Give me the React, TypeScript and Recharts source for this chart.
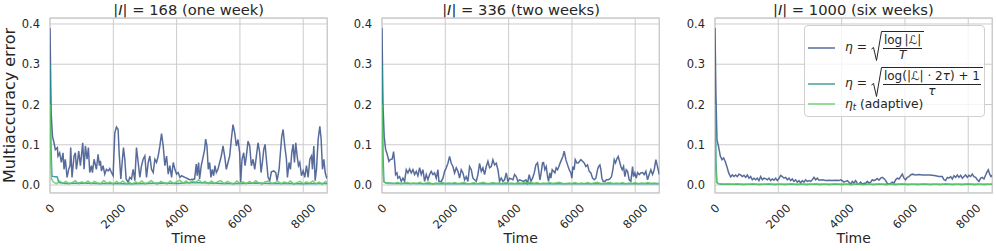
import React from 'react'
import { LineChart, Line, XAxis, YAxis, CartesianGrid, ReferenceArea, Legend } from 'recharts'

const FONT = '"DejaVu Sans", sans-serif'
const INK = '#262626'
const GRID = '#cccccc'

const TIME_TICKS = [0, 2000, 4000, 6000, 8000]
const ERROR_TICKS = [0, 0.1, 0.2, 0.3, 0.4]
const HORIZON_SIZES = [168, 336, 1000]
const HORIZON_NAMES = ['one week', 'two weeks', 'six weeks']
const SERIES_COLORS = ['#3b528b', '#21918c', '#5ec962']
const SERIES_NAMES = ['fixed log|L|/T', 'fixed log(|L|2tau)+1/tau', 'adaptive']

// [time, error], one list per panel
const P1_FIXED: [number, number][] = [
  [0, 0.39], [35, 0.18], [80, 0.12], [127, 0.105], [169, 0.088], [232, 0.093], [253, 0.072], [306, 0.08],
  [359, 0.056], [411, 0.08], [443, 0.039], [485, 0.064], [538, 0.019], [591, 0.039], [633, 0.048], [654, 0.093],
  [696, 0.019], [760, 0.072], [802, 0.08], [833, 0.039], [865, 0.056], [907, 0.084], [960, 0.048], [992, 0.072],
  [1034, 0.105], [1076, 0.039], [1118, 0.097], [1171, 0.064], [1213, 0.093], [1255, 0.031], [1308, 0.048],
  [1340, 0.031], [1393, 0.064], [1466, 0.039], [1519, 0.076], [1561, 0.048], [1593, 0.06], [1625, 0.035],
  [1677, 0.048], [1730, 0.027], [1783, 0.039], [1836, 0.035], [1888, 0.041], [1941, 0.031], [1994, 0.023],
  [2047, 0.129], [2099, 0.144], [2152, 0.138], [2184, 0.08], [2237, 0.015], [2279, 0.056], [2321, 0.093],
  [2363, 0.064], [2405, 0.015], [2469, 0.007], [2521, 0.019], [2574, 0.015], [2627, 0.039], [2680, 0.011],
  [2732, 0.093], [2785, 0.056], [2838, 0.019], [2891, 0.048], [2943, 0.064], [2996, 0.072], [3049, 0.019],
  [3102, 0.056], [3154, 0.072], [3207, 0.039], [3260, 0.031], [3313, 0.064], [3365, 0.056], [3418, 0.072],
  [3471, 0.097], [3524, 0.128], [3576, 0.097], [3629, 0.048], [3682, 0.072], [3735, 0.027], [3787, 0.048],
  [3840, 0.019], [3893, 0.056], [3946, 0.039], [3998, 0.027], [4051, 0.031], [4104, 0.019], [4157, 0.023],
  [4262, 0.019], [4368, 0.015], [4410, 0.013], [4568, 0.015], [4621, 0.052], [4652, 0.023], [4694, 0.056],
  [4726, 0.015], [4779, 0.048], [4832, 0.068], [4884, 0.088], [4916, 0.114], [4958, 0.097], [5000, 0.039],
  [5043, 0.056], [5085, 0.019], [5127, 0.039], [5169, 0.023], [5211, 0.048], [5254, 0.031], [5306, 0.039],
  [5359, 0.056], [5412, 0.072], [5465, 0.097], [5517, 0.072], [5570, 0.039], [5623, 0.056], [5676, 0.072],
  [5728, 0.113], [5781, 0.15], [5834, 0.13], [5887, 0.097], [5939, 0.113], [5992, 0.08], [6024, 0.007],
  [6066, 0.064], [6119, 0.08], [6161, 0.048], [6203, 0.072], [6256, 0.109], [6309, 0.097], [6361, 0.048],
  [6414, 0.064], [6467, 0.039], [6520, 0.072], [6572, 0.105], [6625, 0.08], [6667, 0.031], [6709, 0.056],
  [6752, 0.088], [6794, 0.101], [6836, 0.064], [6889, 0.019], [6942, 0.011], [6994, 0.033], [7068, 0.035],
  [7131, 0.031], [7174, 0.011], [7237, 0.039], [7279, 0.08], [7321, 0.121], [7364, 0.138], [7416, 0.097],
  [7469, 0.064], [7501, 0.019], [7553, 0.056], [7596, 0.039], [7638, 0.08], [7680, 0.101], [7722, 0.056],
  [7764, 0.105], [7807, 0.072], [7849, 0.048], [7891, 0.056], [7944, 0.023], [7997, 0.035], [8049, 0.019],
  [8102, 0.048], [8155, 0.019], [8208, 0.064], [8261, 0.072], [8292, 0.039], [8334, 0.097], [8376, 0.011],
  [8419, 0.039], [8471, 0.113], [8524, 0.146], [8566, 0.113], [8608, 0.039], [8651, 0.064], [8693, 0.031],
  [8735, 0.019], [8760, 0.022],
]

const P2_FIXED: [number, number][] = [
  [0, 0.39], [30, 0.2], [70, 0.12], [114, 0.088], [156, 0.079], [219, 0.059], [261, 0.063], [324, 0.065],
  [366, 0.083], [398, 0.059], [429, 0.026], [472, 0.03], [503, 0.017], [556, 0.021], [608, 0.009], [661, 0.017],
  [714, 0.009], [766, 0.038], [819, 0.03], [872, 0.04], [924, 0.03], [977, 0.038], [1030, 0.026], [1082, 0.034],
  [1135, 0.023], [1188, 0.043], [1240, 0.026], [1293, 0.038], [1346, 0.009], [1398, 0.026], [1451, 0.013],
  [1504, 0.026], [1556, 0.034], [1609, 0.026], [1661, 0.03], [1714, 0.017], [1767, 0.038], [1798, 0.009],
  [1872, 0.009], [1925, 0.017], [1977, 0.034], [2030, 0.043], [2083, 0.054], [2135, 0.071], [2188, 0.054],
  [2241, 0.046], [2293, 0.03], [2346, 0.043], [2399, 0.034], [2451, 0.017], [2504, 0.038], [2557, 0.03],
  [2609, 0.013], [2662, 0.021], [2714, 0.009], [2767, 0.046], [2820, 0.038], [2872, 0.017], [2925, 0.013],
  [2978, 0.009], [3030, 0.026], [3083, 0.054], [3136, 0.034], [3188, 0.043], [3241, 0.026], [3294, 0.046],
  [3346, 0.059], [3399, 0.043], [3452, 0.046], [3504, 0.063], [3557, 0.05], [3610, 0.054], [3662, 0.038],
  [3715, 0.009], [3767, 0.017], [3820, 0.009], [3873, 0.013], [3925, 0.03], [3978, 0.009], [4031, 0.017],
  [4136, 0.013], [4188, 0.026], [4241, 0.021], [4294, 0.009], [4347, 0.013], [4472, 0.009], [4545, 0.013],
  [4598, 0.005], [4651, 0.026], [4703, 0.009], [4756, 0.017], [4809, 0.03], [4861, 0.05], [4914, 0.055],
  [4945, 0.038], [4988, 0.013], [5019, 0.026], [5072, 0.055], [5103, 0.056], [5145, 0.038], [5188, 0.046],
  [5230, 0.021], [5261, 0.009], [5303, 0.03], [5335, 0.017], [5377, 0.038], [5419, 0.034], [5461, 0.03],
  [5503, 0.043], [5546, 0.038], [5588, 0.046], [5630, 0.055], [5672, 0.063], [5714, 0.071], [5756, 0.084],
  [5809, 0.063], [5862, 0.05], [5914, 0.038], [5967, 0.03], [5998, 0.017], [6030, 0.046], [6072, 0.038],
  [6104, 0.063], [6156, 0.055], [6198, 0.055], [6241, 0.059], [6283, 0.063], [6335, 0.059], [6388, 0.055],
  [6441, 0.046], [6493, 0.05], [6546, 0.034], [6599, 0.03], [6651, 0.017], [6704, 0.013], [6757, 0.017],
  [6809, 0.038], [6841, 0.046], [6883, 0.05], [6915, 0.038], [6946, 0.017], [6988, 0.009], [7041, 0.009],
  [7094, 0.013], [7146, 0.013], [7199, 0.015], [7251, 0.021], [7294, 0.038], [7336, 0.063], [7378, 0.055],
  [7420, 0.065], [7462, 0.071], [7504, 0.059], [7546, 0.046], [7589, 0.038], [7631, 0.046], [7673, 0.021],
  [7715, 0.038], [7757, 0.034], [7810, 0.013], [7862, 0.009], [7915, 0.046], [7946, 0.021], [7988, 0.03],
  [8031, 0.017], [8073, 0.031], [8125, 0.026], [8178, 0.03], [8231, 0.031], [8283, 0.026], [8336, 0.034],
  [8389, 0.013], [8441, 0.026], [8494, 0.038], [8547, 0.026], [8599, 0.038], [8652, 0.063], [8705, 0.045],
  [8760, 0.026],
]

const P3_FIXED: [number, number][] = [
  [0, 0.39], [30, 0.22], [63, 0.112], [116, 0.094], [168, 0.072], [221, 0.063], [274, 0.067], [326, 0.058],
  [379, 0.045], [432, 0.03], [494, 0.02], [547, 0.025], [600, 0.021], [652, 0.025], [705, 0.021], [757, 0.027],
  [810, 0.025], [863, 0.021], [915, 0.024], [968, 0.019], [1021, 0.025], [1073, 0.017], [1126, 0.021],
  [1179, 0.013], [1231, 0.017], [1284, 0.013], [1337, 0.017], [1389, 0.011], [1442, 0.021], [1495, 0.013],
  [1547, 0.017], [1600, 0.016], [1652, 0.013], [1705, 0.017], [1758, 0.011], [1810, 0.015], [1863, 0.012],
  [1916, 0.017], [1968, 0.011], [2021, 0.016], [2074, 0.024], [2126, 0.021], [2179, 0.017], [2232, 0.019],
  [2284, 0.013], [2337, 0.017], [2390, 0.011], [2442, 0.015], [2495, 0.009], [2547, 0.013], [2600, 0.007],
  [2653, 0.011], [2705, 0.005], [2758, 0.011], [2811, 0.007], [2863, 0.013], [2916, 0.009], [2969, 0.011],
  [3021, 0.009], [3074, 0.013], [3127, 0.019], [3179, 0.013], [3232, 0.017], [3285, 0.012], [3390, 0.013],
  [3495, 0.011], [3601, 0.012], [3706, 0.011], [3811, 0.012], [3916, 0.011], [3969, 0.013], [4022, 0.011],
  [4074, 0.007], [4127, 0.009], [4180, 0.011], [4232, 0.007], [4285, 0.002], [4338, 0.009], [4390, 0.005],
  [4443, 0.011], [4496, 0.004], [4548, 0.003], [4601, 0.007], [4654, 0.002], [4706, 0.004], [4759, 0.005],
  [4812, 0.009], [4864, 0.005], [4917, 0.007], [4969, 0.013], [5022, 0.011], [5075, 0.013], [5127, 0.016],
  [5180, 0.012], [5233, 0.017], [5285, 0.019], [5338, 0.016], [5391, 0.011], [5443, 0.004], [5496, 0.002],
  [5549, 0.004], [5601, 0.007], [5654, 0.005], [5707, 0.013], [5759, 0.017], [5812, 0.015], [5864, 0.021],
  [5917, 0.027], [5970, 0.017], [6022, 0.013], [6075, 0.019], [6128, 0.021], [6180, 0.025], [6233, 0.027],
  [6338, 0.025], [6444, 0.026], [6549, 0.025], [6654, 0.025], [6760, 0.025], [6865, 0.024], [6970, 0.023],
  [7075, 0.021], [7181, 0.021], [7233, 0.013], [7286, 0.011], [7339, 0.019], [7391, 0.017], [7444, 0.021],
  [7497, 0.015], [7549, 0.023], [7602, 0.019], [7655, 0.025], [7707, 0.019], [7760, 0.024], [7813, 0.017],
  [7865, 0.021], [7918, 0.025], [7971, 0.019], [8023, 0.024], [8076, 0.021], [8129, 0.027], [8181, 0.021],
  [8234, 0.019], [8286, 0.013], [8339, 0.009], [8392, 0.017], [8444, 0.019], [8497, 0.015], [8550, 0.025],
  [8602, 0.034], [8634, 0.038], [8676, 0.027], [8718, 0.021], [8760, 0.024],
]

// times shared by the teal (tau) curves
const TAU_T = [0, 30, 60, 120, 230, 280, 500, 1000, 1500, 2000, 2500, 3000, 3500, 4000, 4500, 5000, 5500, 6000, 6500, 7000, 7500, 8000, 8500, 8760]
const P1_TAU = [0.3, 0.1, 0.022, 0.021, 0.02, 0.006, 0.004, 0.005, 0.004, 0.004, 0.003, 0.004, 0.005, 0.004, 0.006, 0.005, 0.004, 0.004, 0.005, 0.004, 0.004, 0.003, 0.004, 0.004]
const P2_TAU = [0.3, 0.08, 0.008, 0.005, 0.005, 0.004, 0.004, 0.004, 0.003, 0.004, 0.003, 0.003, 0.004, 0.003, 0.004, 0.003, 0.004, 0.003, 0.003, 0.004, 0.003, 0.003, 0.004, 0.003]
const P3_TAU = [0.3, 0.06, 0.006, 0.003, 0.002, 0.002, 0.002, 0.002, 0.002, 0.002, 0.002, 0.002, 0.002, 0.002, 0.002, 0.002, 0.002, 0.002, 0.002, 0.002, 0.002, 0.002, 0.002, 0.002]

// times shared by the green (adaptive) curves
const NOISE_T = [
  0, 20, 50, 100, 200, 300, 400, 500, 600, 700, 800, 900, 1000, 1100, 1200, 1300, 1400, 1500, 1600, 1700, 1800,
  1900, 2000, 2100, 2200, 2300, 2400, 2500, 2600, 2700, 2800, 2900, 3000, 3100, 3200, 3300, 3400, 3500, 3600,
  3700, 3800, 3900, 4000, 4100, 4200, 4300, 4400, 4500, 4600, 4700, 4800, 4900, 5000, 5100, 5200, 5300, 5400,
  5500, 5600, 5700, 5800, 5900, 6000, 6100, 6200, 6300, 6400, 6500, 6600, 6700, 6800, 6900, 7000, 7100, 7200,
  7300, 7400, 7500, 7600, 7700, 7800, 7900, 8000, 8100, 8200, 8300, 8400, 8500, 8600, 8700, 8760,
]
const P1_ADAPTIVE = [
  0.2, 0.07, 0.015,
  0.008, 0.003, 0.01, 0.004, 0.009, 0.003, 0.006, 0.011, 0.003, 0.008,
  0.004, 0.01, 0.003, 0.009, 0.005, 0.003, 0.011, 0.004, 0.008, 0.002,
  0.009, 0.004, 0.01, 0.003, 0.007, 0.002, 0.008, 0.004, 0.01, 0.003,
  0.006, 0.011, 0.004, 0.002, 0.009, 0.005, 0.003, 0.01, 0.004, 0.008,
  0.012, 0.005, 0.01, 0.004, 0.011, 0.006, 0.013, 0.005, 0.009, 0.003,
  0.01, 0.004, 0.008, 0.011, 0.003, 0.009, 0.005, 0.002, 0.01, 0.004,
  0.008, 0.003, 0.009, 0.004, 0.011, 0.005, 0.002, 0.008, 0.01, 0.004,
  0.006, 0.009, 0.003, 0.008, 0.004, 0.01, 0.002, 0.006, 0.009, 0.003,
  0.008, 0.004, 0.01, 0.003, 0.007, 0.002, 0.009,
  0.005,
]
const P2_ADAPTIVE = [
  0.2, 0.05, 0.01,
  0.006, 0.003, 0.005, 0.004, 0.007, 0.003, 0.005, 0.006, 0.003, 0.005,
  0.004, 0.007, 0.003, 0.005, 0.006, 0.002, 0.005, 0.004, 0.007, 0.003,
  0.005, 0.004, 0.006, 0.003, 0.005, 0.007, 0.003, 0.004, 0.006, 0.003,
  0.005, 0.007, 0.004, 0.003, 0.006, 0.004, 0.005, 0.003, 0.006, 0.004,
  0.005, 0.003, 0.006, 0.004, 0.007, 0.005, 0.008, 0.004, 0.006, 0.003,
  0.005, 0.004, 0.006, 0.003, 0.005, 0.007, 0.004, 0.003, 0.005, 0.004,
  0.006, 0.003, 0.005, 0.004, 0.006, 0.003, 0.005, 0.007, 0.004, 0.003,
  0.005, 0.006, 0.003, 0.005, 0.004, 0.006, 0.003, 0.005, 0.004, 0.006,
  0.003, 0.005, 0.004, 0.006, 0.003, 0.005, 0.004,
  0.004,
]
const P3_ADAPTIVE = [
  0.2, 0.05, 0.008,
  0.004, 0.003, 0.002, 0.003, 0.002, 0.002, 0.003, 0.002, 0.001, 0.002,
  0.002, 0.003, 0.002, 0.001, 0.002, 0.002, 0.003, 0.002, 0.001, 0.002,
  0.002, 0.001, 0.002, 0.003, 0.002, 0.001, 0.002, 0.002, 0.001, 0.002,
  0.002, 0.003, 0.001, 0.002, 0.002, 0.001, 0.002, 0.003, 0.002, 0.001,
  0.002, 0.002, 0.001, 0.002, 0.003, 0.002, 0.001, 0.002, 0.002, 0.001,
  0.002, 0.003, 0.002, 0.001, 0.002, 0.002, 0.001, 0.002, 0.003, 0.002,
  0.001, 0.002, 0.002, 0.001, 0.002, 0.003, 0.002, 0.001, 0.002, 0.002,
  0.001, 0.002, 0.003, 0.002, 0.001, 0.002, 0.002, 0.001, 0.002, 0.003,
  0.002, 0.001, 0.002, 0.002, 0.001, 0.002, 0.002,
  0.002,
]

const X_DOMAIN: [number, number] = [0, 8760]
const Y_DOMAIN: [number, number] = [-0.0198, 0.4148]

// layout: left edge of each plot area, in page pixels
const PLOT_LEFT = [50, 382.4, 714.7]
const PLOT_WIDTH = 277.3
const Y_AXIS_W = 50
const RIGHT_PAD = 4
const CHART_W = Y_AXIS_W + PLOT_WIDTH + RIGHT_PAD
const CHART_H = 251

const fromPairs = (pairs: [number, number][]) => pairs.map(([t, v]) => ({ t, v }))
const zip = (ts: number[], vs: number[]) => ts.map((t, i) => ({ t, v: vs[i] }))

const PANELS = [
  { fixed: fromPairs(P1_FIXED), tau: zip(TAU_T, P1_TAU), adaptive: zip(NOISE_T, P1_ADAPTIVE) },
  { fixed: fromPairs(P2_FIXED), tau: zip(TAU_T, P2_TAU), adaptive: zip(NOISE_T, P2_ADAPTIVE) },
  { fixed: fromPairs(P3_FIXED), tau: zip(TAU_T, P3_TAU), adaptive: zip(NOISE_T, P3_ADAPTIVE) },
]

function TimeTick(props: any) {
  const { x, y, payload } = props
  const label = String(payload.value)
  const w = label.length * 7.3
  const cy = y + 10 + ((w + 8.5) * 0.7071) / 2
  return (
    <text
      x={x}
      y={cy}
      transform={`rotate(-45, ${x}, ${cy})`}
      textAnchor="middle"
      dominantBaseline="central"
      fontSize={11.5}
      fill={INK}
    >
      {label}
    </text>
  )
}

function Radical({ height, children }: { height: number; children: React.ReactNode }) {
  return (
    <span style={{ display: 'inline-flex', alignItems: 'stretch' }}>
      <svg width={11} height={height} viewBox={`0 0 11 ${height}`} style={{ display: 'block', overflow: 'visible' }}>
        <path
          d={`M0.5,${height * 0.6} L2.5,${height * 0.55} L5.5,${height - 0.5} L10.5,0.5 L11,0.5`}
          fill="none"
          stroke={INK}
          strokeWidth={1}
        />
      </svg>
      <span style={{ borderTop: `1px solid ${INK}`, padding: '2px 2px 0 1px', display: 'inline-flex' }}>{children}</span>
    </span>
  )
}

function Frac({ num, den }: { num: React.ReactNode; den: React.ReactNode }) {
  return (
    <span style={{ display: 'inline-flex', flexDirection: 'column', alignItems: 'center', lineHeight: '13.5px', fontSize: 12 }}>
      <span style={{ borderBottom: `1px solid ${INK}`, padding: '0 1px', whiteSpace: 'nowrap' }}>{num}</span>
      <span>{den}</span>
    </span>
  )
}

const LEGEND_HANDLE_Y = [22, 58, 78]

function SeriesLegend() {
  const eta = <i>η</i>
  const labels = [
    <span style={{ display: 'inline-flex', alignItems: 'center' }}>
      {eta}&nbsp;=&nbsp;
      <Radical height={30}>
        <Frac num={<>log&thinsp;|ℒ|</>} den={<i>T</i>} />
      </Radical>
    </span>,
    <span style={{ display: 'inline-flex', alignItems: 'center' }}>
      {eta}&nbsp;=&nbsp;
      <Radical height={30}>
        <Frac num={<>log(|ℒ| · 2<i>τ</i>) + 1</>} den={<i>τ</i>} />
      </Radical>
    </span>,
    <span>
      {eta}
      <sub style={{ fontSize: 8.5, verticalAlign: '-2px' }}><i>t</i></sub> (adaptive)
    </span>,
  ]
  const labelTop = [5, 41, 71]
  return (
    <div
      style={{
        position: 'relative',
        width: 181,
        height: 92,
        boxSizing: 'border-box',
        background: 'rgba(255,255,255,0.8)',
        border: '1px solid #d0d0d0',
        borderRadius: 4,
        fontFamily: FONT,
        fontSize: 12.3,
        color: INK,
      }}
    >
      {SERIES_COLORS.map((c, i) => (
        <svg key={SERIES_NAMES[i]} width={27} height={4} style={{ position: 'absolute', left: 3, top: LEGEND_HANDLE_Y[i] - 2 }}>
          <line x1={0} y1={2} x2={27} y2={2} stroke={c} strokeOpacity={0.85} strokeWidth={1.5} />
        </svg>
      ))}
      {labels.map((l, i) => (
        <div key={i} style={{ position: 'absolute', left: 40, top: labelTop[i], lineHeight: '14px', whiteSpace: 'nowrap' }}>
          {l}
        </div>
      ))}
    </div>
  )
}

function Panel({ index }: { index: number }) {
  const panel = PANELS[index]
  const series = [panel.fixed, panel.tau, panel.adaptive]
  return (
    <div style={{ position: 'absolute', left: PLOT_LEFT[index] - Y_AXIS_W, top: 0, width: CHART_W, height: CHART_H }}>
      <div
        style={{
          position: 'absolute',
          left: Y_AXIS_W,
          top: 2,
          width: PLOT_WIDTH,
          textAlign: 'center',
          fontSize: 14.7,
          lineHeight: '16px',
          color: INK,
          whiteSpace: 'nowrap',
        }}
      >
        |<i>I</i>| = {HORIZON_SIZES[index]} ({HORIZON_NAMES[index]})
      </div>
      <LineChart width={CHART_W} height={CHART_H} margin={{ top: 18, right: RIGHT_PAD, bottom: 0, left: 0 }}>
        <CartesianGrid stroke={GRID} strokeWidth={1} />
        <XAxis
          type="number"
          dataKey="t"
          domain={X_DOMAIN}
          ticks={TIME_TICKS}
          interval={0}
          allowDataOverflow
          axisLine={false}
          tickLine={false}
          tickSize={0}
          tickMargin={0}
          height={58}
          tick={<TimeTick />}
          label={{ value: 'Time', position: 'insideBottom', offset: 8, fontSize: 14, fill: INK }}
        />
        <YAxis
          type="number"
          dataKey="v"
          domain={Y_DOMAIN}
          ticks={ERROR_TICKS}
          interval={0}
          allowDataOverflow
          axisLine={false}
          tickLine={false}
          tickSize={0}
          tickMargin={10}
          width={Y_AXIS_W}
          tick={{ fontSize: 11.5, fill: INK }}
          tickFormatter={(v: number) => v.toFixed(1)}
          label={
            index === 0
              ? {
                  content: (p: any) => {
                    const vb = p.viewBox
                    const bx = vb.x + 15
                    const cy = vb.y + vb.height / 2
                    return (
                      <text x={bx} y={cy} transform={`rotate(-90, ${bx}, ${cy})`} textAnchor="middle" fontSize={16} fill={INK}>
                        Multiaccuracy error
                      </text>
                    )
                  },
                }
              : undefined
          }
        />
        <ReferenceArea
          x1={X_DOMAIN[0]}
          x2={X_DOMAIN[1]}
          y1={Y_DOMAIN[0]}
          y2={Y_DOMAIN[1]}
          fill="none"
          stroke={GRID}
          strokeWidth={1.25}
          ifOverflow="visible"
        />
        {series.map((d, i) => (
          <Line
            key={SERIES_NAMES[i]}
            data={d}
            dataKey="v"
            name={SERIES_NAMES[i]}
            type="linear"
            stroke={SERIES_COLORS[i]}
            strokeOpacity={0.85}
            strokeWidth={1.5}
            dot={false}
            activeDot={false}
            isAnimationActive={false}
          />
        ))}
        {index === 2 && (
          <Legend
            layout="horizontal"
            align="center"
            verticalAlign="middle"
            content={() => <SeriesLegend />}
            wrapperStyle={{ left: 804 - (PLOT_LEFT[2] - Y_AXIS_W), top: 25, width: 181, height: 92 }}
          />
        )}
      </LineChart>
    </div>
  )
}

export default function App() {
  return (
    <div
      style={{
        position: 'absolute',
        left: 0,
        top: 0,
        width: 996,
        height: 251,
        background: '#ffffff',
        fontFamily: FONT,
        overflow: 'hidden',
      }}
    >
      {HORIZON_SIZES.map((_, i) => (
        <Panel key={i} index={i} />
      ))}
    </div>
  )
}
